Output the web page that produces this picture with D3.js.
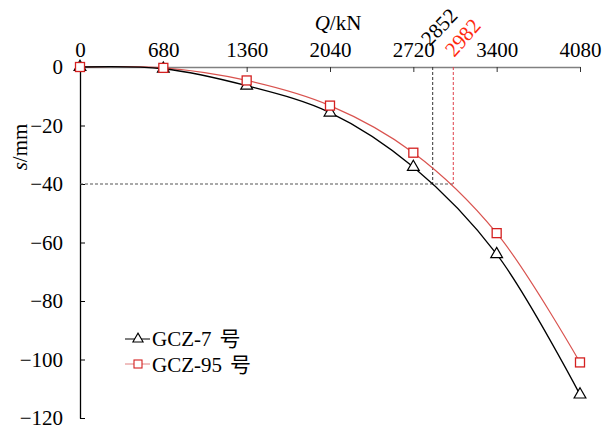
<!DOCTYPE html>
<html>
<head>
<meta charset="utf-8">
<script src="https://cdn.jsdelivr.net/npm/d3@7"></script>
<style>
  body { margin: 0; background: #fff; }
  text { font-family: "Liberation Serif", "Noto Sans CJK SC", serif; font-size: 21px; }
</style>
</head>
<body>
<svg width="608" height="425"></svg>
<script>
// data
var loads = [0, 680, 1360, 2040, 2720, 3400, 4080];
var gcz7 = [0, -0.6, -6.4, -15.6, -34.2, -64.0, -112.0];
var gcz95 = [0, -0.3, -4.6, -13.2, -29.3, -56.8, -101.0];
var xTicks = [0, 680, 1360, 2040, 2720, 3400, 4080];
var yTicks = [0, -20, -40, -60, -80, -100, -120];
var labels = ["2852", "2982"];
var guideQ = [2878, 3046]; // where the dashed lines sit in the picture
var sLimit = -40;

var svg = d3.select("svg");

var xScale = d3.scaleLinear().domain([0, 4080]).range([80, 580]),
    yScale = d3.scaleLinear().domain([0, -120]).range([67, 418]);

// top axis (gray line, ticks pointing down)
var xAxis = svg.append("g")
    .attr("transform", "translate(0," + yScale(0) + ")")
    .call(d3.axisTop(xScale).tickValues(xTicks).tickFormat(d3.format("d"))
      .tickSizeInner(-5).tickSizeOuter(0).tickPadding(10));
xAxis.select(".domain").attr("stroke", "#808080").attr("stroke-width", 1.5);
xAxis.selectAll(".tick line").attr("stroke", "#333");
xAxis.selectAll("text").attr("fill", "#000");

// left axis (ticks pointing right)
var yAxis = svg.append("g")
    .attr("transform", "translate(" + xScale(0) + ",0)")
    .call(d3.axisLeft(yScale).tickValues(yTicks).tickSizeInner(-5).tickSizeOuter(0).tickPadding(17)
      .tickFormat(function(d) { return d < 0 ? "\u2212" + (-d) : d; }));
yAxis.select(".domain").attr("stroke", "#000").attr("stroke-width", 1.3);
yAxis.selectAll("text").attr("fill", "#000");
yAxis.selectAll(".tick line").attr("stroke", "#000");

// axis titles
var qt = svg.append("text").attr("x", 338).attr("y", 30).attr("text-anchor", "middle");
qt.append("tspan").attr("font-style", "italic").text("Q");
qt.append("tspan").text("/kN");

var st = svg.append("text").attr("transform", "translate(27,147) rotate(-90)")
    .attr("text-anchor", "middle");
st.append("tspan").attr("font-style", "italic").text("s");
st.append("tspan").text("/mm");

// guide lines
svg.append("line")
    .attr("x1", xScale(0)).attr("x2", xScale(guideQ[1]))
    .attr("y1", yScale(sLimit)).attr("y2", yScale(sLimit))
    .attr("stroke", "#555").attr("stroke-width", 1.2).attr("stroke-dasharray", "3,2");
svg.append("line")
    .attr("x1", xScale(guideQ[0])).attr("x2", xScale(guideQ[0]))
    .attr("y1", yScale(0)).attr("y2", yScale(sLimit))
    .attr("stroke", "#333").attr("stroke-width", 1).attr("stroke-dasharray", "3,2");
svg.append("line")
    .attr("x1", xScale(guideQ[1])).attr("x2", xScale(guideQ[1]))
    .attr("y1", yScale(0)).attr("y2", yScale(sLimit))
    .attr("stroke", "#e0404a").attr("stroke-width", 1).attr("stroke-dasharray", "3,2");

svg.append("text")
    .attr("transform", "translate(" + (xScale(guideQ[0]) - 3) + ",47) rotate(-46)")
    .attr("fill", "#000").text(labels[0]);
svg.append("text")
    .attr("transform", "translate(" + (xScale(guideQ[1]) + 1) + ",58) rotate(-49)")
    .attr("fill", "#ff2a10").text(labels[1]);

// curves
var line = d3.line().curve(d3.curveCatmullRom.alpha(0.5))
    .x(function(d, i) { return xScale(loads[i]); })
    .y(function(d) { return yScale(d); });

svg.append("path").datum(gcz95).attr("d", line)
    .attr("fill", "none").attr("stroke", "#d9534f").attr("stroke-width", 1.2);
svg.append("path").datum(gcz7).attr("d", line)
    .attr("fill", "none").attr("stroke", "#000").attr("stroke-width", 1.3);

var tri = d3.symbol().type(d3.symbolTriangle).size(60);

svg.selectAll(".tri").data(gcz7).enter().append("path")
    .attr("class", "tri")
    .attr("transform", function(d, i) { return "translate(" + xScale(loads[i]) + "," + yScale(d) + ")"; })
    .attr("d", tri).attr("fill", "#fff").attr("stroke", "#000").attr("stroke-width", 1.2);

svg.selectAll(".sq").data(gcz95).enter().append("rect")
    .attr("class", "sq")
    .attr("x", function(d, i) { return xScale(loads[i]) - 4.5; })
    .attr("y", function(d) { return yScale(d) - 4.5; })
    .attr("width", 9).attr("height", 9)
    .attr("fill", "#fff").attr("stroke", "#d42020").attr("stroke-width", 1.3);

// legend
var lg = svg.append("g").attr("transform", "translate(125,0)");
lg.append("line").attr("x1", 0).attr("x2", 25).attr("y1", 339).attr("y2", 339).attr("stroke", "#000");
lg.append("path").attr("transform", "translate(13,339)").attr("d", d3.symbol().type(d3.symbolTriangle).size(45))
    .attr("fill", "#fff").attr("stroke", "#000").attr("stroke-width", 1.1);
var l1 = lg.append("text").attr("x", 27).attr("y", 346);
l1.append("tspan").text("GCZ-7");
l1.append("tspan").attr("dx", 8).text("号");
lg.append("line").attr("x1", 0).attr("x2", 25).attr("y1", 364).attr("y2", 364).attr("stroke", "#e08080");
lg.append("rect").attr("x", 9).attr("y", 360).attr("width", 8).attr("height", 8)
    .attr("fill", "#fff").attr("stroke", "#d42020").attr("stroke-width", 1.1);
var l2 = lg.append("text").attr("x", 27).attr("y", 372);
l2.append("tspan").text("GCZ-95");
l2.append("tspan").attr("dx", 8).text("号");
</script>
</body>
</html>
